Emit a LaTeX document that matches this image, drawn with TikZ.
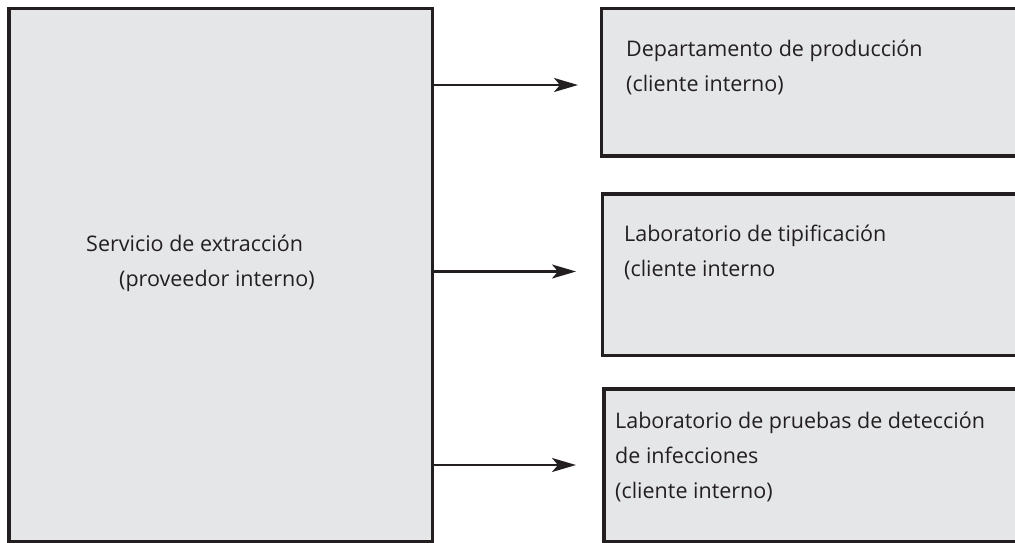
\documentclass[tikz,border=0pt]{standalone}
\usepackage{fontspec}
\setmainfont{Open Sans}
\usetikzlibrary{arrows.meta}
\definecolor{boxfill}{HTML}{E5E6E8}
\definecolor{ink}{HTML}{231F20}
\tikzset{
  box/.style={draw=ink, fill=boxfill, line width=3.6pt, anchor=north west, inner sep=0pt},
  arr/.style={draw=ink, line width=2.4pt, -{Stealth[length=24pt,width=14pt,inset=6pt]}},
  label/.style={anchor=north west, inner sep=0pt, align=left, text=ink, font=\fontsize{21.5}{35}\selectfont}
}
\begin{document}
\begin{tikzpicture}[x=1pt,y=-1pt]
\useasboundingbox (0,0) rectangle (1015,542);
\clip (0,0) rectangle (1015,542);
\node[box, minimum width=423.5pt, minimum height=533pt] (L) at (7,6.5) {};
\node[box, minimum width=440pt, minimum height=147.5pt] (R1) at (599.5,6.5) {};
\node[box, minimum width=440pt, minimum height=161.5pt] (R2) at (600.5,192) {};
\node[box, minimum width=440pt, minimum height=153pt] (R3) at (602,387) {};
\node[label] (tL) at (86,235) {Servicio de extracción\\\hspace*{33pt}(proveedor interno)};
\node[label] (t1) at (626,40) {Departamento de producción\\(cliente interno)};
\node[label] (t2) at (624,225) {Laboratorio de tipificación\\(cliente interno};
\node[label] (t3) at (615,412) {Laboratorio de pruebas de detección\\de infecciones\\(cliente interno)};
\coordinate (e1) at (578,85);
\coordinate (e2) at (576,271.5);
\coordinate (e3) at (576,465);
\draw[arr] (e1 -| L.east) -- (e1);
\draw[arr] (e2 -| L.east) -- (e2);
\draw[arr] (e3 -| L.east) -- (e3);
\end{tikzpicture}
\end{document}
